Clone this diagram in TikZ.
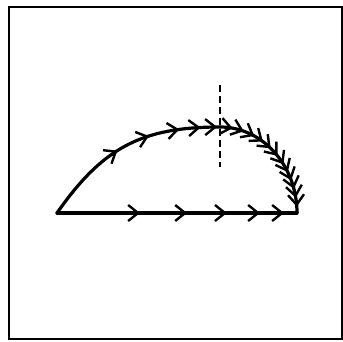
\documentclass[tikz,border=0pt]{standalone}
\usetikzlibrary{decorations.markings,arrows.meta}
\begin{document}
\begin{tikzpicture}[x=1pt,y=1pt,
  curve/.style={line width=3.2pt, line cap=round, line join=round},
  chev/.tip={Straight Barb[length=10pt,width=16pt,line width=2.4pt]},
  frame/.style={line width=1.6pt},
  axisdash/.style={line width=1.8pt, dash pattern=on 7pt off 4pt},
  leftmarks/.style={postaction={decorate}, decoration={markings,
    mark=at position 0.45 with {\arrow{chev}},
    mark=at position 0.63 with {\arrow{chev}},
    mark=at position 0.79 with {\arrow{chev}},
    mark=at position 0.90 with {\arrow{chev}},
    mark=at position 0.985 with {\arrow{chev}}}},
  rightmarks/.style={postaction={decorate}, decoration={markings,
    mark=at position 0.10 with {\arrow{chev}},
    mark=at position 0.19 with {\arrow{chev}},
    mark=at position 0.28 with {\arrow{chev}},
    mark=at position 0.36 with {\arrow{chev}},
    mark=at position 0.44 with {\arrow{chev}},
    mark=at position 0.52 with {\arrow{chev}},
    mark=at position 0.60 with {\arrow{chev}},
    mark=at position 0.67 with {\arrow{chev}},
    mark=at position 0.74 with {\arrow{chev}},
    mark=at position 0.81 with {\arrow{chev}},
    mark=at position 0.88 with {\arrow{chev}},
    mark=at position 0.95 with {\arrow{chev}}}},
  basemarks/.style={postaction={decorate}, decoration={markings,
    mark=at position 0.346 with {\arrow{chev}},
    mark=at position 0.542 with {\arrow{chev}},
    mark=at position 0.708 with {\arrow{chev}},
    mark=at position 0.846 with {\arrow{chev}},
    mark=at position 0.946 with {\arrow{chev}}}}]
\useasboundingbox (0,0) rectangle (343,341);
\draw[frame] (9,2) rectangle (342,334);
\coordinate (A) at (57,128);
\coordinate (T) at (220,214);
\coordinate (B) at (297,128);
\coordinate (Dtop) at (220,256);
\coordinate (Dbot) at (220,174);
\draw[curve, leftmarks] (A) to[out=55,in=180,looseness=1.1] (T);
\draw[curve, rightmarks] (T) arc[start angle=90,end angle=0,x radius=77,y radius=86];
\draw[curve, basemarks] (A) -- (B);
\draw[axisdash] (Dtop) -- (Dbot);
\end{tikzpicture}
\end{document}
